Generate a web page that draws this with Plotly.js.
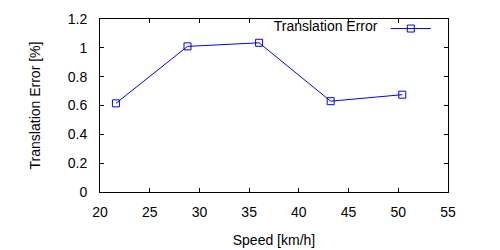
<!DOCTYPE html>
<html>
<head>
<meta charset="utf-8">
<script src="https://cdn.plot.ly/plotly-3.0.1.min.js"></script>
<style>html,body{margin:0;padding:0;background:#fff;}#chart{width:500px;height:250px;}</style>
</head>
<body>
<div id="chart"></div>
<script>
const speed = [21.6, 28.8, 36.0, 43.2, 50.4];
const translationError = [0.615, 1.01, 1.035, 0.63, 0.675];
const seriesName = 'Translation Error';
const xTicks = [20, 25, 30, 35, 40, 45, 50, 55];
const yTicks = [0, 0.2, 0.4, 0.6, 0.8, 1, 1.2];

const font = {family: '"Liberation Sans", Arial, sans-serif', size: 14, color: '#000'};

const trace = {
  x: speed, y: translationError,
  type: 'scatter', mode: 'lines+markers',
  name: '',
  showlegend: true,
  line: {color: '#0000ff', width: 1},
  marker: {symbol: 'square-open', size: 7, color: '#0000ff', line: {width: 1, color: '#0000ff'}}
};

const axisCommon = {
  showline: true, linecolor: '#000', linewidth: 1, mirror: 'ticks',
  ticks: 'inside', ticklen: 4, tickcolor: '#000', tickwidth: 1,
  showgrid: false, zeroline: false, tickfont: font
};

const layout = {
  width: 500, height: 250,
  margin: {l: 100, r: 52, t: 19, b: 58},
  paper_bgcolor: '#fff', plot_bgcolor: '#fff',
  font: font,
  xaxis: Object.assign({}, axisCommon, {
    range: [20, 55], tickvals: xTicks, ticktext: xTicks.map(String),
    ticklabelstandoff: 7,
    title: {text: 'Speed [km/h]', font: font, standoff: 16}
  }),
  yaxis: Object.assign({}, axisCommon, {
    range: [0, 1.2], tickvals: yTicks, ticktext: yTicks.map(String),
    ticklabelstandoff: 9,
    title: {text: 'Translation Error [%]', font: font, standoff: 23}
  }),
  showlegend: true,
  legend: {
    x: 0.982, y: 1.035, xanchor: 'right', yanchor: 'top',
    bgcolor: 'rgba(0,0,0,0)', borderwidth: 0,
    title: {text: seriesName, side: 'left', font: font},
    font: font, itemwidth: 40
  }
};

Plotly.newPlot('chart', [trace], layout, {staticPlot: true, displayModeBar: false});
</script>
</body>
</html>
